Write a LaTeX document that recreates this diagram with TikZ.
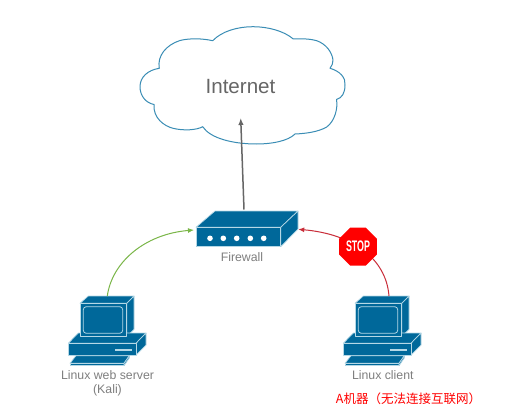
\documentclass[tikz,border=0pt]{standalone}
\usepackage{fontspec}
\setmainfont{Liberation Sans}
\newfontfamily\cjkfont{Noto Sans CJK SC}
\usetikzlibrary{arrows.meta,shapes.geometric}
\definecolor{devblue}{HTML}{00689A}
\definecolor{devedge}{HTML}{B5D8E6}
\definecolor{cloudline}{HTML}{3A8DB5}
\definecolor{labelgray}{HTML}{7F7F7F}
\definecolor{greenline}{HTML}{7AB648}
\definecolor{redline}{HTML}{C92D39}
\tikzset{
  x=1pt,y=-1pt,
  devface/.style={fill=devblue,draw=devedge,line width=0.7pt,line join=round},
  devlabel/.style={font=\fontsize{12.3}{14}\selectfont,text=labelgray,align=center,inner sep=0pt},
  link/.style={line width=1pt},
  computer/.pic={
    \path[devface] (80,303.3)--(88.3,296)--(134,296)--(126.7,303.3)--cycle;
    \path[devface] (126.7,303.3)--(134,296)--(134,329.3)--(126.7,336.7)--cycle;
    \path[devface] (78.3,333)--(146,333)--(136,343.3)--(68.3,343.3)--cycle;
    \path[devface] (136,343.3)--(146,333)--(146,345)--(136,355)--cycle;
    \path[devface] (68.3,343.3)--(136,343.3)--(136,355)--(68.3,355)--cycle;
    \path[devface] (80,303.3)--(126.7,303.3)--(126.7,336.7)--(80,336.7)--cycle;
    \draw[devedge,line width=0.8pt,rounded corners=3pt] (83.3,306.7) rectangle (122.7,333.3);
    \draw[devedge,line width=1.4pt] (115,350)--(132.3,350);
    \path[devface] (76,355.7)--(129.3,355.7)--(124,363.3)--(70,363.3)--cycle;
    \path[devface] (70,363.3)--(124,363.3)--(124,365.7)--(70,365.7)--cycle;
    \path[devface] (124,363.3)--(129.3,355.7)--(129.3,358)--(124,365.7)--cycle;
  }
}
\begin{document}
\begin{tikzpicture}
\useasboundingbox (0,0) rectangle (508,417);
\fill[white] (0,0) rectangle (508,417);
% cloud
\draw[cloudline,line width=1pt,fill=white,line join=round]
  (212.7,40.7)
  .. controls (222,31) and (238,26.7) .. (253,26.7)
  .. controls (268,26.7) and (284,31) .. (293.3,39)
  .. controls (303,38.5) and (311,39) .. (316.7,40.7)
  .. controls (326,44) and (332,52) .. (333,60)
  .. controls (333,63) and (332,66) .. (330,68.3)
  .. controls (340,71) and (346,78) .. (345,85)
  .. controls (345,93) and (342,98) .. (336.5,99.5)
  .. controls (338,108) and (335,121) .. (326.7,127)
  .. controls (318,132) and (306,133.5) .. (295,134)
  .. controls (288,141) and (272,144) .. (256.7,144)
  .. controls (232,144) and (210,138) .. (202.7,126.7)
  .. controls (197,130) and (184,131) .. (173,128.3)
  .. controls (164,126) and (153,118) .. (154,104.5)
  .. controls (146,103) and (140,96) .. (140,86.7)
  .. controls (140,77) and (148,70) .. (159.3,68.3)
  .. controls (157,56) and (166,45) .. (180,40.5)
  .. controls (190,38) and (203,38.5) .. (212.7,40.7)
  -- cycle;
\node[inner sep=0pt,text=black!60,font=\fontsize{20.6}{24}\selectfont] (internetlabel) at (240.5,87) {Internet};
\coordinate (internetin) at (240.7,118);
% firewall
\path[devface] (196,227.3)--(215,211)--(298,211)--(280.7,227.3)--cycle;
\path[devface] (280.7,227.3)--(298,211)--(298,229)--(280.7,246.7)--cycle;
\path[devface] (196,227.3)--(280.7,227.3)--(280.7,246.7)--(196,246.7)--cycle;
\foreach \px in {210,223.3,236.7,250.3,263.7}
  \fill[white] (\px,238.3) circle[radius=2.8pt];
\node[devlabel] (firewalllabel) at (242,257) {Firewall};
\coordinate (firewalltop) at (244,209.5);
\coordinate (firewallwest) at (194,230);
\coordinate (firewalleast) at (298.3,229.3);
% computers
\pic (server) at (0,0) {computer};
\pic (client) at (275,0) {computer};
\coordinate (servertop) at (107.3,296);
\coordinate (clienttop) at (389,296);
\node[devlabel] (serverlabel) at (107.5,383) {Linux web server\\(Kali)};
\node[devlabel] (clientlabel) at (382.8,375) {Linux client};
\node[inner sep=0pt,text=red,font=\fontsize{12.5}{14}\selectfont\cjkfont] (note) at (408.5,399) {A机器（无法连接互联网）};
% links
\draw[link,draw=black!60,line width=1.5pt,-{Latex[length=7pt,width=5.5pt]}] (firewalltop) -- (internetin);
\draw[link,draw=greenline,-{Latex[length=6pt,width=5pt]}] (servertop) .. controls (112,262) and (145,234) .. (firewallwest);
\draw[link,draw=redline,-{Latex[length=6pt,width=5pt]}] (clienttop) .. controls (386,258) and (352,234) .. (firewalleast);
% stop sign
\node[regular polygon,regular polygon sides=8,minimum size=41pt,inner sep=0pt,fill=red,text=white,font=\fontsize{15.3}{16}\selectfont\bfseries] (stopsign) at (358,246.6) {\scalebox{0.58}[1]{STOP}};
\end{tikzpicture}
\end{document}
